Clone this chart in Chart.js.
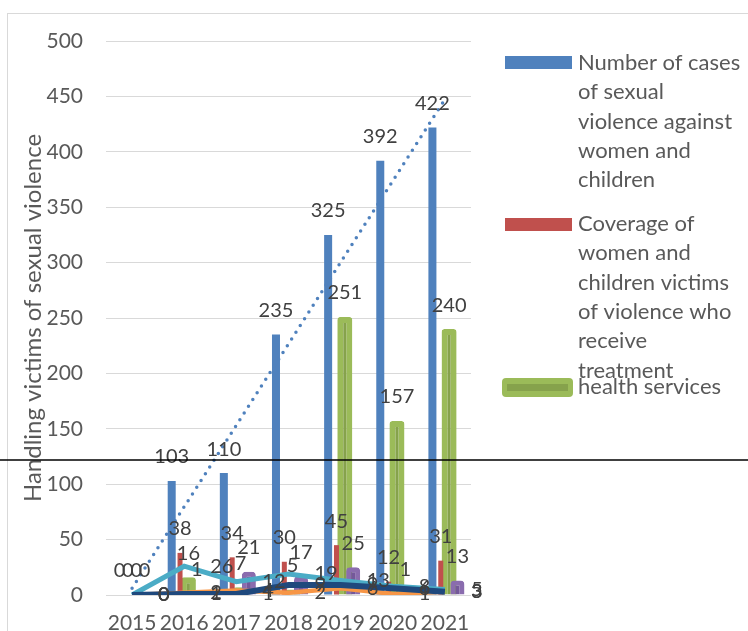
<!DOCTYPE html>
<html>
<head>
<meta charset="utf-8">
<script src="https://cdn.jsdelivr.net/npm/chart.js@4.4.0/dist/chart.umd.min.js"></script>
<style>
    html, body { margin: 0; padding: 0; background: #fff; overflow: hidden; }
    #wrap { width: 748px; height: 660px; }
</style>
</head>
<body>
<div id="wrap"><canvas id="chart" width="748" height="660"></canvas></div>
<script>
// ===== DATA =====
const years = ['2015', '2016', '2017', '2018', '2019', '2020', '2021'];
const casesData = [0, 103, 110, 235, 325, 392, 422];
const coverageData = [0, 38, 34, 30, 45, 12, 31];
const healthData = [0, 16, 7, 5, 251, 157, 240];
const purpleData = [0, 1, 21, 17, 25, 1, 13];
const cyanData = [0, 26, 12, 19, 13, 8, 5];
const navyData = [0, 1, 1, 9, 9, 6, 3];
const orangeData = [0, 2, 4, 2, 6, 1, 3];
const yTicks = [0, 50, 100, 150, 200, 250, 300, 350, 400, 450, 500];

const yTitle = 'Handling victims of sexual violence';
const legendCases = ['Number of cases', 'of sexual', 'violence against', 'women and', 'children'];
const legendCoverage = ['Coverage of', 'women and', 'children victims', 'of violence who', 'receive', 'treatment'];
const legendHealth = ['health services'];

const FONT = 'Lato, "Open Sans", sans-serif';
const TEXT = '#595959';

// linear trendline of the cases series (what Excel draws)
function linearTrend(values) {
    const n = values.length;
    const mx = (n - 1) / 2;
    const my = values.reduce((a, b) => a + b, 0) / n;
    let num = 0, den = 0;
    values.forEach((v, i) => { num += (i - mx) * (v - my); den += (i - mx) * (i - mx); });
    const slope = num / den;
    return values.map((v, i) => my + slope * (i - mx));
}

// ===== PLUGINS =====
// purple bars sit above the green ones in the original
const purpleOnTop = {
    id: 'purpleOnTop',
    beforeDatasetDraw(chart, args) {
        if (chart.data.datasets[args.index].label === 'purple' && !chart.$purpleNow) return false;
    },
    afterDatasetDraw(chart, args) {
        if (chart.data.datasets[args.index].label !== legendHealth[0]) return;
        const idx = chart.data.datasets.findIndex(d => d.label === 'purple');
        chart.$purpleNow = true;
        chart.getDatasetMeta(idx).controller.draw();
        chart.$purpleNow = false;
    }
};

const valueLabels = {
    id: 'valueLabels',
    afterDatasetsDraw(chart) {
        const ctx = chart.ctx;
        ctx.save();
        ctx.font = '20px ' + FONT;
        ctx.fillStyle = '#404040';
        ctx.textBaseline = 'middle';
        chart.data.datasets.forEach((ds, i) => {
            if (!ds.showLabels) return;
            const meta = chart.getDatasetMeta(i);
            meta.data.forEach((el, j) => {
                const v = ds.data[j];
                if (meta.type === 'bar') {
                    ctx.textAlign = 'center';
                    ctx.fillText(v, el.x, el.y - 24);
                } else {
                    ctx.textAlign = 'left';
                    ctx.fillText(v, el.x + 26, el.y);
                }
            });
        });
        ctx.restore();
    }
};

function roundRect(ctx, x, y, w, h, r) {
    ctx.beginPath();
    ctx.moveTo(x + r, y);
    ctx.arcTo(x + w, y, x + w, y + h, r);
    ctx.arcTo(x + w, y + h, x, y + h, r);
    ctx.arcTo(x, y + h, x, y, r);
    ctx.arcTo(x, y, x + w, y, r);
    ctx.closePath();
}

const decorations = {
    id: 'decorations',
    afterDraw(chart) {
        const ctx = chart.ctx;
        const area = chart.chartArea;
        ctx.save();

        // outer chart border
        ctx.strokeStyle = '#d9d9d9';
        ctx.lineWidth = 1;
        ctx.strokeRect(7.5, 13.5, 800, 700);

        // y axis title
        ctx.fillStyle = TEXT;
        ctx.font = '24px ' + FONT;
        ctx.textAlign = 'center';
        ctx.textBaseline = 'middle';
        ctx.save();
        ctx.translate(33, (area.top + area.bottom) / 2);
        ctx.rotate(-Math.PI / 2);
        ctx.fillText(yTitle, 0, 0);
        ctx.restore();

        // legend
        ctx.font = '22px ' + FONT;
        ctx.textAlign = 'left';
        const step = 29.3;
        ctx.fillStyle = '#4f81bd';
        ctx.fillRect(505, 56, 67, 13);
        ctx.fillStyle = '#c0504d';
        ctx.fillRect(505, 218, 67, 13);
        ctx.fillStyle = '#9bbb59';
        roundRect(ctx, 502, 378, 71, 19, 4);
        ctx.fill();
        ctx.fillStyle = '#86a24c';
        ctx.fillRect(507, 384, 61, 7);

        ctx.fillStyle = TEXT;
        legendCases.forEach((t, i) => ctx.fillText(t, 578, 63 + i * step));
        legendCoverage.forEach((t, i) => ctx.fillText(t, 578, 224 + i * step));
        legendHealth.forEach((t, i) => ctx.fillText(t, 578, 387 + i * step));

        // black rule across the picture
        ctx.strokeStyle = '#000';
        ctx.lineWidth = 1.5;
        ctx.beginPath();
        ctx.moveTo(0, 460);
        ctx.lineTo(748, 460);
        ctx.stroke();

        ctx.restore();
    }
};

// ===== CHART =====
const lineBase = { type: 'line', pointRadius: 0, tension: 0, fill: false, showLabels: true };

new Chart(document.getElementById('chart'), {
    type: 'bar',
    data: {
        labels: years,
        datasets: [
            {
                type: 'line', label: 'trend', data: linearTrend(casesData),
                borderColor: '#4f81bd', borderWidth: 3.5, borderDash: [0, 8],
                borderCapStyle: 'round', pointRadius: 0, order: 0
            },
            { ...lineBase, label: 'navy', data: navyData, borderColor: '#1f497d', borderWidth: 6, order: 1 },
            { ...lineBase, label: 'cyan', data: cyanData, borderColor: '#4bacc6', borderWidth: 5, order: 2 },
            { ...lineBase, label: 'orange', data: orangeData, borderColor: '#f79646', borderWidth: 4.5, order: 3 },
            {
                label: legendCases.join(' '), data: casesData, backgroundColor: '#4f81bd',
                barPercentage: 0.96, order: 4, showLabels: true
            },
            {
                label: legendCoverage.join(' '), data: coverageData, backgroundColor: '#c0504d',
                barPercentage: 0.6, order: 4, showLabels: true
            },
            {
                label: legendHealth[0], data: healthData, backgroundColor: '#86a24c',
                borderColor: '#9bbb59', borderWidth: 6, borderRadius: 3,
                barPercentage: 1.8, order: 4, showLabels: true
            },
            {
                label: 'purple', data: purpleData, backgroundColor: '#74589a',
                borderColor: '#8a6cae', borderWidth: 5, borderRadius: 4,
                barPercentage: 1.68, order: 4, showLabels: true
            }
        ]
    },
    options: {
        responsive: false,
        animation: false,
        events: [],
        categoryPercentage: 0.64,
        layout: { padding: { top: 41, right: 277, bottom: 25, left: 0 } },
        plugins: {
            legend: { display: false },
            tooltip: { enabled: false },
            title: { display: false }
        },
        scales: {
            x: {
                ticks: {
                    color: TEXT, font: { family: FONT, size: 21 },
                    padding: 16, maxRotation: 0, autoSkip: false
                },
                grid: { display: false, drawTicks: false },
                border: { display: false },
                afterFit(scale) { scale.height = 40; }
            },
            y: {
                min: 0,
                max: 500,
                afterBuildTicks(scale) { scale.ticks = yTicks.map(v => ({ value: v })); },
                ticks: { color: TEXT, font: { family: FONT, size: 21 }, padding: 23 },
                grid: { color: '#d9d9d9', drawTicks: false, lineWidth: 1 },
                border: { display: false },
                afterFit(scale) { scale.width = 106; }
            }
        }
    },
    plugins: [purpleOnTop, valueLabels, decorations]
});
</script>
</body>
</html>
